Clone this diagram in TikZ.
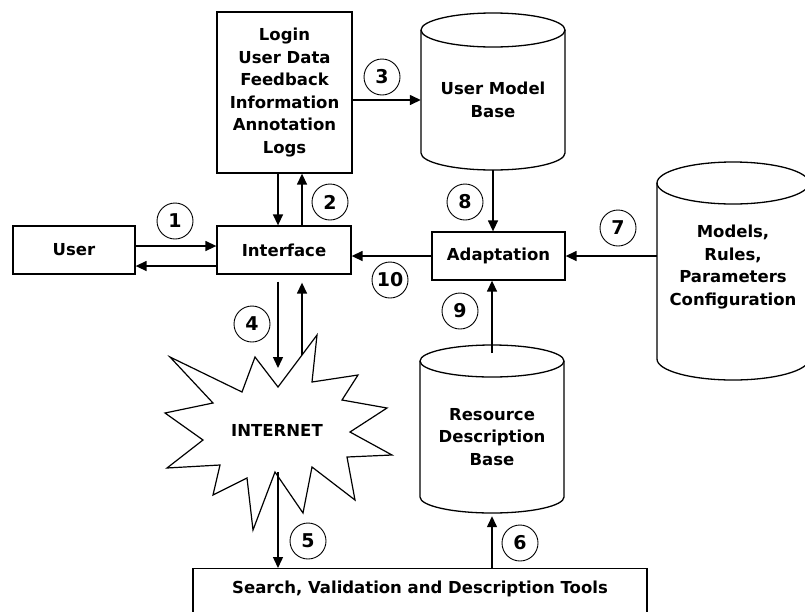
\documentclass[tikz,border=0pt]{standalone}
\usepackage{fontspec}
\setmainfont{DejaVu Sans}
\usetikzlibrary{arrows.meta}
\newcommand\drawcyl[5]{%
  \draw[cylline] (#1-#4,#2) -- (#1-#4,#3) arc[start angle=180,end angle=0,x radius=#4,y radius=#5] -- (#1+#4,#2);
  \draw[cylline] (#1,#2) ellipse[x radius=#4,y radius=#5];}
\begin{document}
\begin{tikzpicture}[x=1pt,y=-1pt,
  font=\bfseries\fontsize{16.5}{22.6}\selectfont,
  box/.style={draw, line width=1.3pt, inner sep=0pt, align=center},
  txt/.style={inner sep=0pt, align=center},
  lbl/.style={draw, circle, line width=0.9pt, minimum size=36pt, inner sep=0pt, font=\bfseries\fontsize{19}{19}\selectfont},
  arr/.style={line width=1.4pt, -{Triangle[length=11pt,width=10pt]}},
  cylline/.style={line width=1.3pt}]
\useasboundingbox (0,0) rectangle (805,611);
\clip (0,0) rectangle (805,611);

% cylinders
\drawcyl{493}{30}{153}{72}{17}
\drawcyl{492}{361}{497}{72}{16}
\drawcyl{733}{183}{359}{76}{21}

% nodes
\node[box, minimum width=135pt, minimum height=161pt] (login) at (284.5,92.5) {Login\\User Data\\Feedback\\Information\\Annotation\\Logs};
\node[box, minimum width=134pt, minimum height=48pt] (iface) at (284,250) {Interface};
\node[box, minimum width=122pt, minimum height=48pt] (user) at (74,250) {User};
\node[box, minimum width=133pt, minimum height=48pt] (adapt) at (498.5,256) {Adaptation};
\node[box, anchor=north, minimum width=454pt, text height=18pt, text depth=40pt, inner ysep=7pt] (tools) at (420,568) {Search, Validation and Description Tools};

\node[txt, minimum width=144pt, minimum height=140pt] (umb) at (493,100) {User Model\\Base};
\node[txt, minimum width=144pt, minimum height=152pt] (rdb) at (492,437) {Resource\\Description\\Base};
\node[txt, minimum width=152pt, minimum height=150pt] (mod) at (733,267) {Models,\\Rules,\\Parameters\\Configuration};

% internet star
\draw[line width=1.2pt, fill=white] (278,387) -- (317,335) -- (312,382) -- (358,375) -- (342,400) -- (387,408) -- (350,432) -- (392,455) -- (347,457) -- (355,500) -- (312,467) -- (303,513) -- (275,472) -- (253,530) -- (247,478) -- (213,495) -- (220,465) -- (167,468) -- (203,440) -- (165,413) -- (213,403) -- (170,357) -- (242,392) -- (255,357) -- cycle;
\node[txt] (inet) at (277,430) {INTERNET};

% helper coordinates
\coordinate (xl) at (278,0);
\coordinate (xr) at (302,0);
\coordinate (s4) at (278,368);
\coordinate (su) at (302,355);
\coordinate (s5) at (278,472);
\coordinate (r9) at (492,353);

% connectors
\draw[arr] ([yshift=4pt]user.east) -- ([yshift=4pt]iface.west);
\draw[arr] ([yshift=-16pt]iface.west) -- ([yshift=-16pt]user.east);
\draw[arr] (xl |- login.south) -- (xl |- iface.north);
\draw[arr] (xr |- iface.north) -- (xr |- login.south);
\draw[arr] (login.east |- 0,100) -- (umb.west |- 0,100);
\draw[arr] (xl |- iface.south) ++(0,7) -- (s4);
\draw[arr, shorten >=8pt] (su) -- (xr |- iface.south);
\draw[arr] (s5) -- (xl |- tools.north);
\draw[arr, shorten >=3pt] (rdb.south |- tools.north) -- (rdb.south);
\draw[arr] (r9) -- (r9 |- adapt.south);
\draw[arr] (umb.south) -- (umb.south |- adapt.north);
\draw[arr] (mod.west |- adapt.east) -- (adapt.east);
\draw[arr] (adapt.west) -- (iface.east |- adapt.west);

% step labels
\node[lbl] (n1) at (175,221) {1};
\node[lbl] (n2) at (330,202) {2};
\node[lbl] (n3) at (382,77) {3};
\node[lbl] (n4) at (252,324) {4};
\node[lbl] (n5) at (308,541) {5};
\node[lbl] (n6) at (520,543) {6};
\node[lbl] (n7) at (618,228) {7};
\node[lbl] (n8) at (465,202) {8};
\node[lbl] (n9) at (460,311) {9};
\node[lbl] (n10) at (390,280) {10};
\end{tikzpicture}
\end{document}
